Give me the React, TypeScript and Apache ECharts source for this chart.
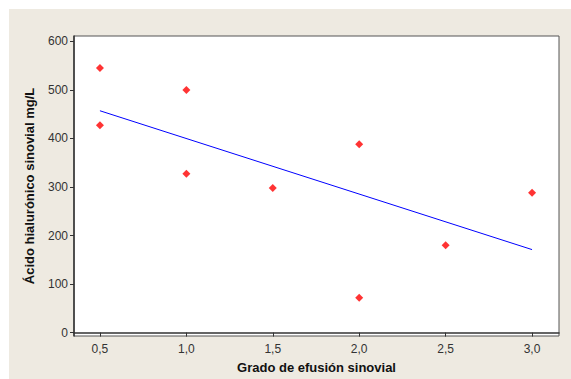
import React, { useEffect, useRef } from "react";
import * as echarts from "echarts";

const xValues = [0.5, 0.5, 1.0, 1.0, 1.5, 2.0, 2.0, 2.5, 3.0];
const yValues = [545, 427, 500, 327, 298, 388, 72, 180, 288];
const fitX = [0.5, 3.0];
const fitY = [457, 171];
const xTicks = [0.5, 1.0, 1.5, 2.0, 2.5, 3.0];
const yTicks = [0, 100, 200, 300, 400, 500, 600];

export default function App() {
  const ref = useRef<HTMLDivElement>(null);
  useEffect(() => {
    if (!ref.current) return;
    const chart = echarts.init(ref.current, null, { renderer: "svg" });
    const font = "Liberation Sans";
    chart.setOption({
      animation: false,
      backgroundColor: "#EEEAE1",
      textStyle: { fontFamily: font },
      grid: {
        left: 65,
        top: 27,
        right: 12,
        bottom: 43,
        show: true,
        backgroundColor: "#ffffff",
        borderColor: "#555555",
        borderWidth: 1,
      },
      xAxis: {
        type: "value",
        min: 0.35,
        max: 3.156,
        name: "Grado de efusión sinovial",
        nameLocation: "middle",
        nameGap: 25,
        nameTextStyle: { fontFamily: font, fontSize: 13, fontWeight: "bold", color: "#111" },
        splitLine: { show: false },
        axisLine: { lineStyle: { color: "#333", width: 1.5 } },
        axisTick: { customValues: xTicks, length: 4, lineStyle: { color: "#333" } },
        axisLabel: {
          customValues: xTicks,
          margin: 7,
          fontSize: 12,
          color: "#333",
          formatter: (v: number) => v.toFixed(1).replace(".", ","),
        },
      },
      yAxis: {
        type: "value",
        min: -7,
        max: 611,
        name: "Ácido hialurónico sinovial mg/L",
        nameLocation: "middle",
        nameGap: 38,
        nameTextStyle: { fontFamily: font, fontSize: 13, fontWeight: "bold", color: "#111" },
        splitLine: { show: false },
        axisLine: { show: true, lineStyle: { color: "#333", width: 1.5 } },
        axisTick: { show: true, customValues: yTicks, length: 4, lineStyle: { color: "#333" } },
        axisLabel: { customValues: yTicks, margin: 6, fontSize: 12, color: "#333" },
      },
      series: [
        {
          type: "line",
          data: fitX.map((x, i) => [x, fitY[i]]),
          showSymbol: false,
          symbol: "none",
          lineStyle: { color: "#0000FF", width: 1 },
          z: 2,
        },
        {
          type: "scatter",
          data: xValues.map((x, i) => [x, yValues[i]]),
          symbol: "diamond",
          symbolSize: 8,
          itemStyle: { color: "#FF0000" },
          z: 3,
        },
      ],
    });
    return () => chart.dispose();
  }, []);
  return (
    <div style={{ position: "fixed", left: 0, top: 0, width: 571, height: 379, background: "#ffffff" }}>
      <div ref={ref} style={{ position: "absolute", left: 9, top: 9, width: 562, height: 370 }} />
    </div>
  );
}
